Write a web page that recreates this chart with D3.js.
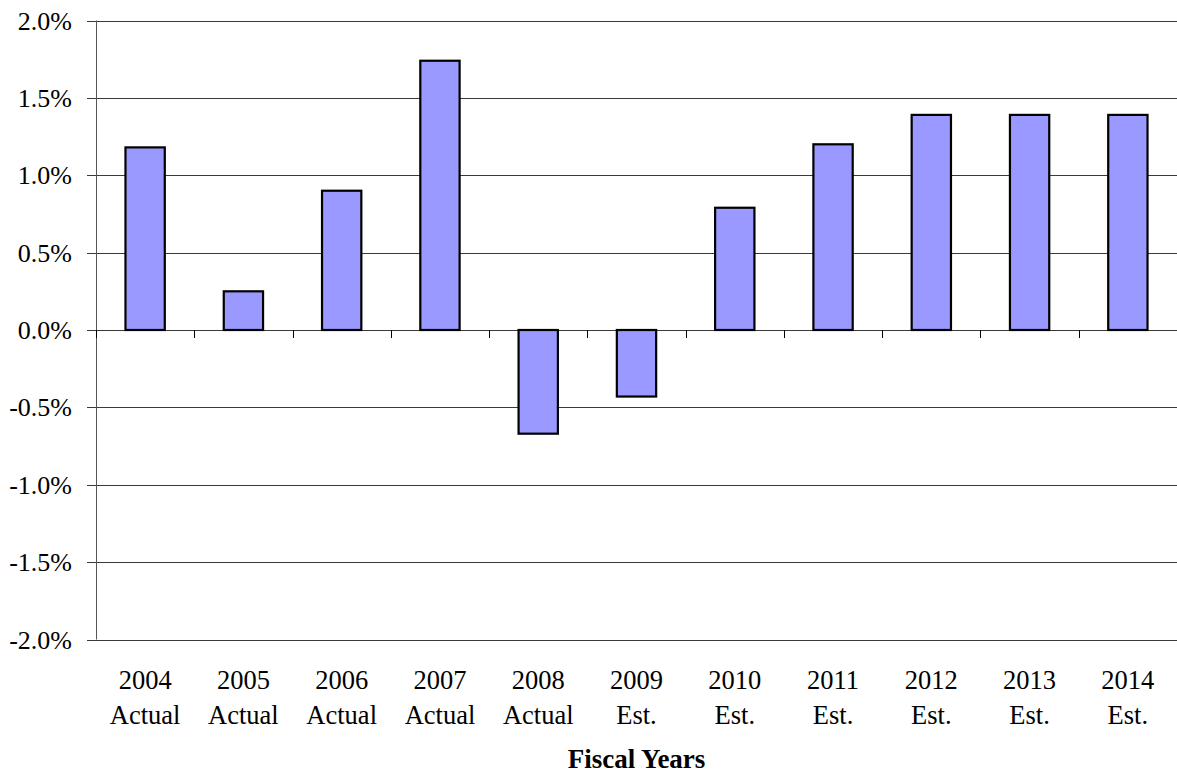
<!DOCTYPE html>
<html>
<head>
<meta charset="utf-8">
<script src="https://cdn.jsdelivr.net/npm/d3@7"></script>
<style>
  html, body { margin: 0; padding: 0; background: #fff; }
  svg { display: block; }
</style>
</head>
<body>
<svg id="chart" width="1177" height="774"></svg>
<script>
// Fiscal years and their status
const years = ["2004", "2005", "2006", "2007", "2008", "2009", "2010", "2011", "2012", "2013", "2014"];
const status = ["Actual", "Actual", "Actual", "Actual", "Actual", "Est.", "Est.", "Est.", "Est.", "Est.", "Est."];
// Annual change, percent
const values = [1.18, 0.25, 0.90, 1.74, -0.67, -0.43, 0.79, 1.20, 1.39, 1.39, 1.39];
// Value axis ticks, percent
const yTicks = [-2.0, -1.5, -1.0, -0.5, 0.0, 0.5, 1.0, 1.5, 2.0];

const serif = "'Liberation Serif', 'Times New Roman', Times, serif";
const svg = d3.select("#chart")
  .attr("font-family", serif);
const plotLeft = 96, plotRight = 1177, plotTop = 20.5, plotBottom = 639.5;

const x = d3.scaleBand()
  .domain(years)
  .range([plotLeft, plotRight])
  .paddingInner(0.6)
  .paddingOuter(0.3);

const y = d3.scaleLinear()
  .domain([-2, 2])
  .range([plotBottom, plotTop]);

// Horizontal gridlines with short outside ticks
svg.append("g").selectAll("line")
  .data(yTicks)
  .join("line")
  .attr("x1", plotLeft - 9)
  .attr("x2", plotRight)
  .attr("y1", d => Math.round(y(d)) + 0.5)
  .attr("y2", d => Math.round(y(d)) + 0.5)
  .attr("stroke", "#3a3a3a")
  .attr("stroke-width", 1);

// Tick labels on the value axis (plain hyphen for negatives)
svg.append("g").selectAll("text")
  .data(yTicks)
  .join("text")
  .attr("x", 72)
  .attr("y", d => y(d) + 9)
  .attr("text-anchor", "end")
  .attr("font-size", 26)
  .text(d => d.toFixed(1) + "%");

// Left axis line
svg.append("line")
  .attr("x1", plotLeft + 0.5).attr("x2", plotLeft + 0.5)
  .attr("y1", plotTop).attr("y2", plotBottom)
  .attr("stroke", "#555").attr("stroke-width", 1);

// Bars
svg.append("g").selectAll("rect")
  .data(values)
  .join("rect")
  .attr("x", (d, i) => x(years[i]))
  .attr("width", x.bandwidth())
  .attr("y", d => y(Math.max(0, d)))
  .attr("height", d => Math.abs(y(d) - y(0)))
  .attr("fill", "#9999FF")
  .attr("stroke", "#000")
  .attr("stroke-width", 2.2);

// Category boundary ticks below the zero line
const step = x.step();
const boundaries = d3.range(years.length + 1).map(i => plotLeft + i * step);
svg.append("g").selectAll("line")
  .data(boundaries)
  .join("line")
  .attr("x1", d => Math.round(d) + 0.5)
  .attr("x2", d => Math.round(d) + 0.5)
  .attr("y1", y(0))
  .attr("y2", y(0) + 8)
  .attr("stroke", "#000")
  .attr("stroke-width", 1);

// Category labels: year on the first line, status below
const cat = svg.append("g").selectAll("text")
  .data(years)
  .join("text")
  .attr("text-anchor", "middle")
  .attr("font-size", 26.5);
cat.append("tspan")
  .attr("x", d => x(d) + x.bandwidth() / 2)
  .attr("y", 689)
  .text(d => d);
cat.append("tspan")
  .attr("x", d => x(d) + x.bandwidth() / 2)
  .attr("y", 724)
  .text((d, i) => status[i]);

// Axis title
svg.append("text")
  .attr("x", (plotLeft + plotRight) / 2)
  .attr("y", 768)
  .attr("text-anchor", "middle")
  .attr("font-size", 27)
  .attr("font-weight", "bold")
  .text("Fiscal Years");
</script>
</body>
</html>
